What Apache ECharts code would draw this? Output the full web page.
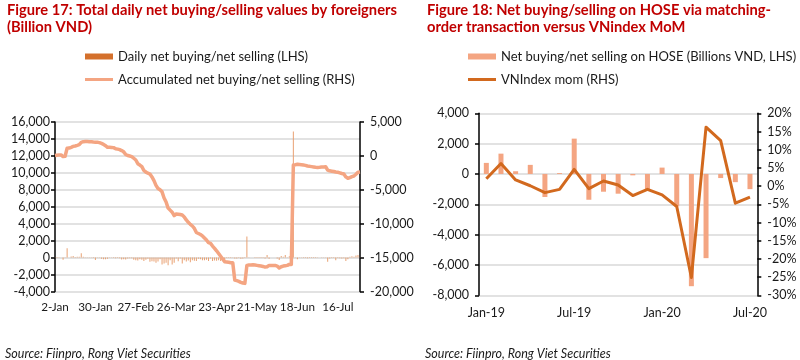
<!DOCTYPE html>
<html><head><meta charset="utf-8">
<script src="https://cdn.jsdelivr.net/npm/echarts@6/dist/echarts.min.js"></script>
<style>html,body{margin:0;padding:0;background:#fff}#c{width:800px;height:360px}</style>
</head><body><div id="c"></div>
<script>
// ---------- Figure 17 data ----------
// weekday categories from 2-Jan-2020 (152 trading days to 31-Jul)
const MONTHS = ['Jan','Feb','Mar','Apr','May','Jun','Jul','Aug','Sep','Oct','Nov','Dec'];
const dayCategories = [];
(function(){
  const d = new Date(2020, 0, 2);
  while (dayCategories.length < 152) {
    const w = d.getDay();
    if (w !== 0 && w !== 6) dayCategories.push(d.getDate() + '-' + MONTHS[d.getMonth()]);
    d.setDate(d.getDate() + 1);
  }
})();

const dailyNet = [
  -30, 80, 50, 0, -250, 50, 1110, 20, 120, 200,
  60, 90, 100, 520, 100, 40, -20, -20, -30, -40,
  -280, -30, -20, -150, -180, -200, -130, -20, -20, -60,
  -70, -60, -90, -220, -200, -230, -110, -80, -80, -250,
  -300, -350, -200, -240, -400, -250, -150, -500, -430, -450,
  -600, -450, -200, -800, -700, -600, -900, -300, -800, -600,
  -100, -430, -100, -700, -300, -450, -350, -550, -300, -360,
  -400, -150, -200, -300, -300, -250, -400, -100, -400, -330,
  -370, -300, -400, -300, -400, -50, -50, -50, -30, -100,
  -100, -60, -150, -100, -50, 2480, 50, 20, 20, -40,
  -50, -50, -50, -50, -100, 320, -150, 20, 10, 10,
  -100, -280, 190, 100, 300, 50, 150, 100, 14870, 40,
  -200, -30, -30, -50, -50, -90, -50, -40, -50, -50,
  -20, 20, 30, 30, 30, -500, -100, -50, -50, -300,
  -50, -80, -100, -70, -400, -200, 100, 150, 100, 250,
  300, 50
];

const accumNet = [
  50, 100, 150, 150, -100, -50, 1130, 1150, 1270, 1400,
  1460, 1550, 1650, 2000, 2100, 2140, 2120, 2100, 2070, 2040,
  2020, 2000, 1960, 1850, 1710, 1500, 1270, 1260, 1240, 1220,
  1060, 1000, 920, 780, 600, 200, 50, -20, -100, -350,
  -600, -1150, -1350, -1590, -2150, -2400, -2550, -2670, -3100, -3650,
  -4350, -4800, -5000, -5300, -6200, -6800, -7700, -8000, -8300, -8800,
  -8570, -8600, -8650, -8720, -9000, -9450, -9800, -10100, -10340, -10700,
  -11300, -11450, -11600, -11800, -12100, -12400, -12800, -12900, -13300, -13630,
  -14000, -14400, -14800, -15200, -15600, -15650, -15700, -15750, -15750, -18300,
  -18400, -18500, -18650, -18750, -18800, -16150, -16100, -16080, -16060, -16100,
  -16150, -16200, -16250, -16300, -16400, -16350, -16150, -16150, -16150, -16150,
  -16250, -16540, -16350, -16250, -16200, -16150, -16000, -16000, -1340, -1300,
  -1240, -1270, -1300, -1350, -1400, -1490, -1540, -1580, -1630, -1680,
  -1700, -1680, -1650, -1620, -1600, -2100, -2200, -2250, -2300, -2370,
  -2420, -2500, -2600, -2670, -3100, -3300, -3200, -3050, -2960, -2700,
  -2400, -2370
];

// ---------- Figure 18 data ----------
const monthCategories = ['Jan-19','Feb-19','Mar-19','Apr-19','May-19','Jun-19','Jul-19','Aug-19','Sep-19','Oct-19','Nov-19','Dec-19',
  'Jan-20','Feb-20','Mar-20','Apr-20','May-20','Jun-20','Jul-20'];
const hoseNet = [730, 1340, 180, 600, -1520, 60, 2330, -1700, -1170, -1300, -90, -1030, 420, -2130, -7400, -5550, -270, -540, -1000];
const vnIndexMom = [2.0, 6.2, 1.7, 0.1, -1.8, -0.9, 4.6, -0.7, 1.4, 0.3, -2.6, -0.9, -2.4, -5.6, -25.1, 16.2, 12.5, -4.7, -3.0];

// ---------- chart ----------
const FONT = 'Lato';
const TXT = '#1a1a1a';
const RED = '#C00000';
const GRID = '#D9D9D9';
const fmtNum = v => String(v).replace(/\B(?=(\d{3})+(?!\d))/g, ',');
const S1 = 'Daily net buying/net selling (LHS)';
const S2 = 'Accumulated net buying/net selling (RHS)';
const S3 = 'Net buying/net selling on HOSE (Billions VND, LHS)';
const S4 = 'VNIndex mom (RHS)';

const axisLineStyle = {show: true, lineStyle: {color: '#000', width: 1.5}};
const tickStyle = {show: true, length: 4, lineStyle: {color: '#000', width: 1.5}};
const lbl = (extra) => Object.assign({color: TXT, fontSize: 12.5, fontFamily: FONT}, extra);
const legendBase = (name, left, top, h, color) => ({
  data: [{name: name, itemStyle: {color: color}}],
  left: left, top: top, icon: 'rect', itemWidth: 28, itemHeight: h,
  padding: 0, selectedMode: false,
  textStyle: {fontSize: 13, color: TXT, fontFamily: FONT}
});
const titleStyle = {fontFamily: FONT, fontWeight: 'bold', fontSize: 14.7, lineHeight: 17, color: RED};
const srcStyle = {fontFamily: FONT, fontStyle: 'italic', fontWeight: 'normal', fontSize: 12.5, color: TXT};

const option = {
  animation: false,
  textStyle: {fontFamily: FONT},
  title: [
    {text: 'Figure 17: Total daily net buying/selling values by foreigners\n(Billion VND)', left: 7, top: 2, padding: 0, textStyle: titleStyle},
    {text: 'Figure 18: Net buying/selling on HOSE via matching-\norder transaction versus VNindex MoM', left: 427, top: 2, padding: 0, textStyle: titleStyle},
    {text: 'Source: Fiinpro, Rong Viet Securities', left: 5, top: 347, padding: 0, textStyle: srcStyle},
    {text: 'Source: Fiinpro, Rong Viet Securities', left: 425, top: 347, padding: 0, textStyle: srcStyle}
  ],
  legend: [
    legendBase(S1, 85, 50, 6, '#D4702C'),
    legendBase(S2, 85, 73, 3, '#F4A582'),
    legendBase(S3, 468, 50, 6, '#F4A582'),
    legendBase(S4, 468, 73, 3, '#D2691E')
  ],
  grid: [
    {left: 55, right: 440, top: 122, bottom: 68.5},
    {left: 479, right: 42.7, top: 113.3, bottom: 64.7}
  ],
  xAxis: [
    {type: 'category', gridIndex: 0, data: dayCategories, boundaryGap: false,
     axisLine: {show: false}, axisTick: {show: false},
     axisLabel: lbl({interval: 19, margin: 10, fontSize: 11.7}), splitLine: {show: false}},
    {type: 'category', gridIndex: 1, data: monthCategories, boundaryGap: true,
     axisLine: {show: false}, axisTick: {show: false},
     axisLabel: lbl({interval: 5, margin: 11}), splitLine: {show: false}}
  ],
  yAxis: [
    {type: 'value', gridIndex: 0, min: -4000, max: 16000, interval: 2000,
     axisLine: axisLineStyle, axisTick: tickStyle,
     axisLabel: lbl({formatter: fmtNum, margin: 5}),
     splitLine: {show: true, lineStyle: {color: GRID, width: 1.5}}},
    {type: 'value', gridIndex: 0, position: 'right', min: -20000, max: 5000, interval: 5000,
     axisLine: axisLineStyle, axisTick: tickStyle,
     axisLabel: lbl({formatter: fmtNum, margin: 10}), splitLine: {show: false}},
    {type: 'value', gridIndex: 1, min: -8000, max: 4000, interval: 2000,
     axisLine: axisLineStyle, axisTick: tickStyle,
     axisLabel: lbl({formatter: fmtNum, margin: 10}),
     splitLine: {show: true, lineStyle: {color: GRID, width: 1.5}}},
    {type: 'value', gridIndex: 1, position: 'right', min: -30, max: 20, interval: 5,
     axisLine: axisLineStyle, axisTick: tickStyle,
     axisLabel: lbl({formatter: '{value}%', margin: 10}), splitLine: {show: false}}
  ],
  series: [
    {name: S1, type: 'bar', xAxisIndex: 0, yAxisIndex: 0, data: dailyNet, barWidth: 1,
     itemStyle: {color: '#E9A172'}, z: 2},
    {name: S2, type: 'line', xAxisIndex: 0, yAxisIndex: 1, data: accumNet, symbol: 'none',
     lineStyle: {color: '#F4A582', width: 3.5, join: 'round'}, itemStyle: {color: '#F4A582'}, z: 3},
    {name: S3, type: 'bar', xAxisIndex: 1, yAxisIndex: 2, data: hoseNet, barWidth: 5,
     itemStyle: {color: '#F4A582'}, z: 2},
    {name: S4, type: 'line', xAxisIndex: 1, yAxisIndex: 3, data: vnIndexMom, symbol: 'none',
     lineStyle: {color: '#D2691E', width: 3, join: 'round'}, itemStyle: {color: '#D2691E'}, z: 3}
  ]
};
const chart = echarts.init(document.getElementById('c'), null, {renderer: 'canvas'});
chart.setOption(option);
</script>
</body></html>
